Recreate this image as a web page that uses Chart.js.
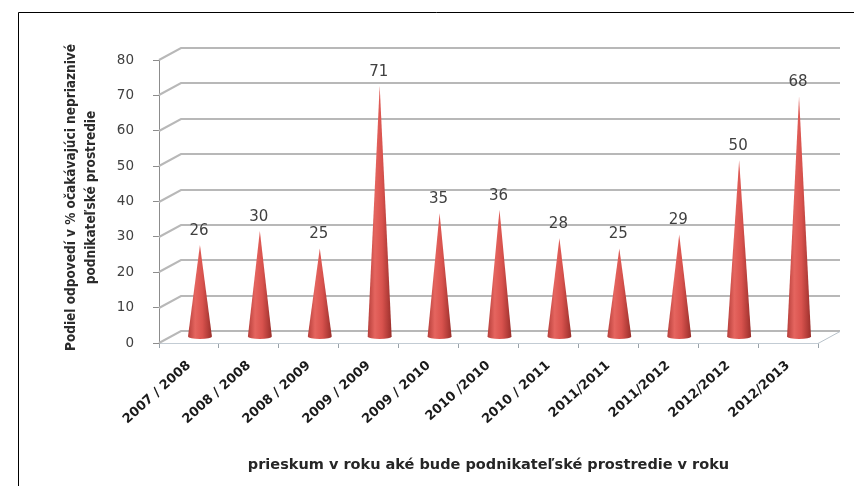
<!DOCTYPE html>
<html>
<head>
<meta charset="utf-8">
<script src="https://cdn.jsdelivr.net/npm/chart.js@4.4.1/dist/chart.umd.min.js"></script>
<style>
  html, body { margin: 0; padding: 0; background: #fff; }
  #wrap { width: 854px; height: 486px; position: relative; }
</style>
</head>
<body>
<div id="wrap"><canvas id="chart"></canvas></div>
<script>
// survey periods (x axis)
const periods = [
    "2007 / 2008", "2008 / 2008", "2008 / 2009", "2009 / 2009", "2009 / 2010",
    "2010 /2010", "2010 / 2011", "2011/2011", "2011/2012", "2012/2012", "2012/2013"
];
// share of answers expecting unfavourable business environment, in %
const shares = [26, 30, 25, 71, 35, 36, 28, 25, 29, 50, 68];
const yMin = 0, yMax = 80, yStep = 10;
const yTitle = ["Podiel odpovedí v % očakávajúci nepriaznivé", "podnikateľské prostredie"];
const xTitle = "prieskum v roku aké bude podnikateľské prostredie v roku";

const DEPTH_X = 22; // how far the back wall is shifted right
const DEPTH_Y = 12; // and up

// draws the fake 3D walls, the cones and the value labels
const conePlugin = {
    id: "cones",
    beforeDraw(chart) {
        const ctx = chart.ctx;
        ctx.save();
        ctx.fillStyle = "#fff";
        ctx.fillRect(0, 0, chart.width, chart.height);
        // outer frame, only top and left edges are visible
        ctx.strokeStyle = "#000";
        ctx.lineWidth = 1;
        ctx.beginPath();
        ctx.moveTo(18.5, chart.height);
        ctx.lineTo(18.5, 12.5);
        ctx.lineTo(chart.width, 12.5);
        ctx.stroke();
        ctx.restore();
    },
    beforeDatasetsDraw(chart) {
        const ctx = chart.ctx;
        const area = chart.chartArea;
        const yScale = chart.scales.y;
        ctx.save();
        ctx.strokeStyle = "#b8b8b8";
        ctx.lineWidth = 2;
        yScale.ticks.forEach(t => {
            const y = Math.round(yScale.getPixelForValue(t.value));
            ctx.beginPath();
            ctx.moveTo(area.left, y);
            ctx.lineTo(area.left + DEPTH_X, y - DEPTH_Y);
            ctx.lineTo(area.right + DEPTH_X, y - DEPTH_Y);
            ctx.stroke();
        });
        // right edge of the floor
        ctx.strokeStyle = "#b8c2ca";
        ctx.lineWidth = 1;
        ctx.beginPath();
        ctx.moveTo(area.right, area.bottom + 0.5);
        ctx.lineTo(area.right + DEPTH_X, area.bottom - DEPTH_Y + 0.5);
        ctx.stroke();

        // y axis title, two lines, drawn here so it is not squeezed
        const midY = (area.top + area.bottom) / 2 - 4;
        ctx.fillStyle = "#2b2b2b";
        ctx.font = "bold 13.5px 'DejaVu Sans Condensed', 'DejaVu Sans'";
        ctx.textAlign = "center";
        ctx.textBaseline = "middle";
        ctx.translate(71, midY);
        ctx.rotate(-Math.PI / 2);
        ctx.fillText(yTitle[0], 0, 0);
        ctx.fillText(yTitle[1], 0, 20);
        ctx.restore();
    },
    afterDatasetsDraw(chart) {
        const ctx = chart.ctx;
        const meta = chart.getDatasetMeta(0);
        const step = chart.scales.x.width / periods.length;
        const halfW = step * 0.2;
        ctx.save();
        meta.data.forEach((bar, i) => {
            const cx = bar.x + DEPTH_X / 2;
            const tipY = bar.y - DEPTH_Y / 2;
            const baseY = bar.base - DEPTH_Y / 2;
            const g = ctx.createLinearGradient(cx - halfW, 0, cx + halfW, 0);
            g.addColorStop(0, "#b53e3a");
            g.addColorStop(0.3, "#e5655f");
            g.addColorStop(0.6, "#d9534e");
            g.addColorStop(1, "#9a2f2b");
            ctx.fillStyle = g;
            ctx.beginPath();
            ctx.moveTo(cx, tipY);
            ctx.lineTo(cx + halfW, baseY);
            ctx.ellipse(cx, baseY, halfW, 2.5, 0, 0, Math.PI);
            ctx.closePath();
            ctx.fill();

            ctx.fillStyle = "#404040";
            ctx.font = "15px 'DejaVu Sans'";
            ctx.textAlign = "center";
            ctx.textBaseline = "middle";
            ctx.fillText(String(shares[i]), cx - 1, tipY - 14);
        });
        ctx.restore();
    }
};

const ctx = document.getElementById("chart").getContext("2d");
const chart = new Chart(ctx, {
    type: "bar",
    data: {
        labels: periods,
        datasets: [{
            data: shares,
            backgroundColor: "rgba(0,0,0,0)",
            borderWidth: 0
        }]
    },
    options: {
        responsive: true,
        maintainAspectRatio: false,
        animation: false,
        devicePixelRatio: 1,
        layout: { padding: { top: 60, right: 36, left: 0, bottom: 0 } },
        plugins: {
            legend: { display: false },
            tooltip: { enabled: false }
        },
        scales: {
            x: {
                afterFit: scale => { scale.height = 143; },
                grid: { drawOnChartArea: false, tickLength: 5, color: "#9aa3aa" },
                border: { display: true, color: "#c3ccd4", width: 1 },
                ticks: {
                    autoSkip: false,
                    minRotation: 42,
                    maxRotation: 42,
                    padding: 10,
                    color: "#1a1a1a",
                    font: { family: "'DejaVu Sans'", size: 13, weight: "bold" }
                },
                title: {
                    display: true,
                    text: xTitle,
                    color: "#262626",
                    padding: { top: 0, bottom: 11 },
                    font: { family: "'DejaVu Sans'", size: 14.5, weight: "bold", lineHeight: "20px" }
                }
            },
            y: {
                min: yMin,
                max: yMax,
                afterFit: scale => { scale.width = 159; },
                grid: { drawOnChartArea: false, tickLength: 6, color: "#8c8c8c" },
                border: { display: true, color: "#8c8c8c", width: 1 },
                ticks: {
                    stepSize: yStep,
                    padding: 19,
                    color: "#404040",
                    font: { family: "'DejaVu Sans'", size: 13.5 }
                },
                title: { display: false }
            }
        }
    },
    plugins: [conePlugin]
});
</script>
</body>
</html>
